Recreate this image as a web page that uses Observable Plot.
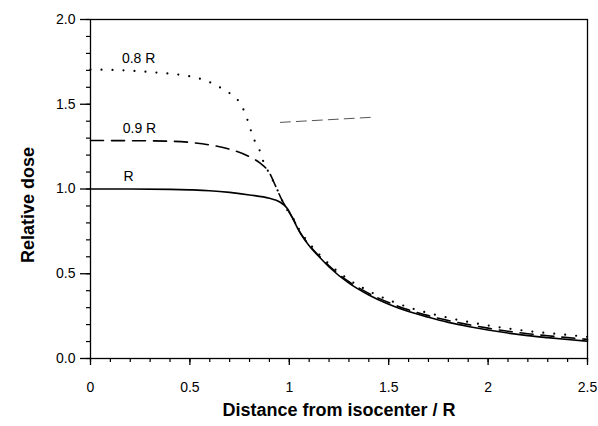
<!DOCTYPE html>
<html>
<head>
<meta charset="utf-8">
<script src="https://cdn.jsdelivr.net/npm/d3@7"></script>
<script src="https://cdn.jsdelivr.net/npm/@observablehq/plot@0.6"></script>
<style>
  html, body { margin: 0; padding: 0; background: #fff; }
</style>
</head>
<body>
<div id="chart"></div>
<script>
// ---- data ----
const solidX = [0, 0.2, 0.4, 0.5, 0.6, 0.7, 0.8, 0.9, 0.95, 0.99, 1.02, 1.05, 1.1, 1.15, 1.2, 1.3, 1.4, 1.5, 1.6, 1.7, 1.8, 1.9, 2.0, 2.1, 2.2, 2.3, 2.4, 2.5];
const solidY = [1.0, 1.0, 0.998, 0.995, 0.99, 0.98, 0.965, 0.945, 0.925, 0.885, 0.82, 0.75, 0.665, 0.60, 0.54, 0.445, 0.375, 0.32, 0.277, 0.243, 0.213, 0.189, 0.168, 0.150, 0.135, 0.123, 0.112, 0.102];

const dottedX = [0, 0.1, 0.2, 0.3, 0.4, 0.5, 0.6, 0.65, 0.7, 0.75, 0.78, 0.8, 0.82, 0.85, 0.87, 0.9, 0.93, 0.965, 0.99, 1.02, 1.05, 1.1, 1.15, 1.2, 1.3, 1.4, 1.5, 1.6, 1.7, 1.8, 1.9, 2.0, 2.1, 2.2, 2.3, 2.4, 2.5];
const dottedY = [1.705, 1.703, 1.698, 1.69, 1.68, 1.665, 1.63, 1.60, 1.565, 1.51, 1.44, 1.37, 1.30, 1.23, 1.16, 1.09, 1.02, 0.93, 0.875, 0.825, 0.76, 0.68, 0.615, 0.557, 0.465, 0.398, 0.345, 0.302, 0.268, 0.240, 0.216, 0.195, 0.177, 0.162, 0.150, 0.139, 0.128];

const dashedX = [0, 0.2, 0.4, 0.5, 0.6, 0.7, 0.8, 0.85, 0.9, 0.93, 0.965, 0.99, 1.02, 1.05, 1.1, 1.15, 1.2, 1.3, 1.4, 1.5, 1.6, 1.7, 1.8, 1.9, 2.0, 2.1, 2.2, 2.3, 2.4, 2.5];
const dashedY = [1.286, 1.285, 1.282, 1.275, 1.26, 1.235, 1.19, 1.155, 1.095, 1.02, 0.93, 0.88, 0.822, 0.753, 0.67, 0.605, 0.547, 0.453, 0.384, 0.330, 0.287, 0.253, 0.224, 0.200, 0.179, 0.161, 0.146, 0.134, 0.123, 0.113];

const strayX = [0.955, 1.43];
const strayY = [1.393, 1.424];

const curveLabels = ["0.8 R", "0.9 R", "R"];
const labelX = [0.158, 0.162, 0.166];
const labelY = [1.77, 1.357, 1.074];

const yMajor = [0, 0.5, 1.0, 1.5, 2.0];
const yMajorLabels = ["0.0", "0.5", "1.0", "1.5", "2.0"];
const yMinor = [0, 0.1, 0.2, 0.3, 0.4, 0.5, 0.6, 0.7, 0.8, 0.9, 1.0, 1.1, 1.2, 1.3, 1.4, 1.5, 1.6, 1.7, 1.8, 1.9, 2.0];
const xMajor = [0, 0.5, 1, 1.5, 2, 2.5];
const xMajorLabels = ["0", "0.5", "1", "1.5", "2", "2.5"];
const xMinor = [0, 0.1, 0.2, 0.3, 0.4, 0.5, 0.6, 0.7, 0.8, 0.9, 1.0, 1.1, 1.2, 1.3, 1.4, 1.5, 1.6, 1.7, 1.8, 1.9, 2.0, 2.1, 2.2, 2.3, 2.4, 2.5];

const xTitle = "Distance from isocenter / R";
const yTitle = "Relative dose";

// ---- build ----
const toPts = (xs, ys) => xs.map((x, i) => ({x, y: ys[i]}));
const solid = toPts(solidX, solidY);
const dotted = toPts(dottedX, dottedY);
const dashed = toPts(dashedX, dashedY);
const stray = toPts(strayX, strayY);
const labels = curveLabels.map((t, i) => ({t, x: labelX[i], y: labelY[i]}));

const chart = Plot.plot({
  width: 598,
  height: 426,
  marginLeft: 90,
  marginRight: 11,
  marginTop: 19,
  marginBottom: 68,
  style: {fontFamily: "'Liberation Sans', Arial, Helvetica, sans-serif", fontSize: "14px", color: "black", background: "white"},
  x: {domain: [0, 2.5]},
  y: {domain: [0, 2]},
  marks: [
    Plot.axisY(yMinor, {anchor: "left", tickSize: 4, text: null, label: null, stroke: "black", strokeWidth: 1.2}),
    Plot.axisY(yMajor, {anchor: "left", tickSize: 10, tickPadding: 5, label: null, tickFormat: (d) => yMajorLabels[yMajor.indexOf(d)], fontSize: 14, stroke: "black", strokeWidth: 1.3}),
    Plot.axisX(xMinor, {anchor: "bottom", tickSize: 4, text: null, label: null, stroke: "black", strokeWidth: 1.2}),
    Plot.axisX(xMajor, {anchor: "bottom", tickSize: 7, tickPadding: 17, label: null, tickFormat: (d) => xMajorLabels[xMajor.indexOf(d)], fontSize: 14, stroke: "black", strokeWidth: 1.3}),
    Plot.frame({stroke: "black", strokeWidth: 1.3}),
    Plot.line(stray, {x: "x", y: "y", stroke: "#555", strokeWidth: 1, strokeDasharray: "10,6"}),
    Plot.line(dotted, {x: "x", y: "y", stroke: "black", strokeWidth: 2.2, strokeDasharray: "0,11", strokeLinecap: "round", curve: "monotone-x"}),
    Plot.line(dashed, {x: "x", y: "y", stroke: "black", strokeWidth: 1.6, strokeDasharray: "13,8", curve: "monotone-x"}),
    Plot.line(solid, {x: "x", y: "y", stroke: "black", strokeWidth: 1.6, curve: "monotone-x"}),
    Plot.text(labels, {x: "x", y: "y", text: "t", textAnchor: "start", fontSize: 14, fill: "black"}),
    Plot.text([xTitle], {frameAnchor: "bottom", textAnchor: "middle", dy: 57, fontWeight: "bold", fontSize: 18, fill: "black"}),
    Plot.text([yTitle], {frameAnchor: "left", textAnchor: "middle", rotate: -90, dx: -62, dy: 16, fontWeight: "bold", fontSize: 18, fill: "black"})
  ]
});
document.getElementById("chart").appendChild(chart);
</script>
</body>
</html>
